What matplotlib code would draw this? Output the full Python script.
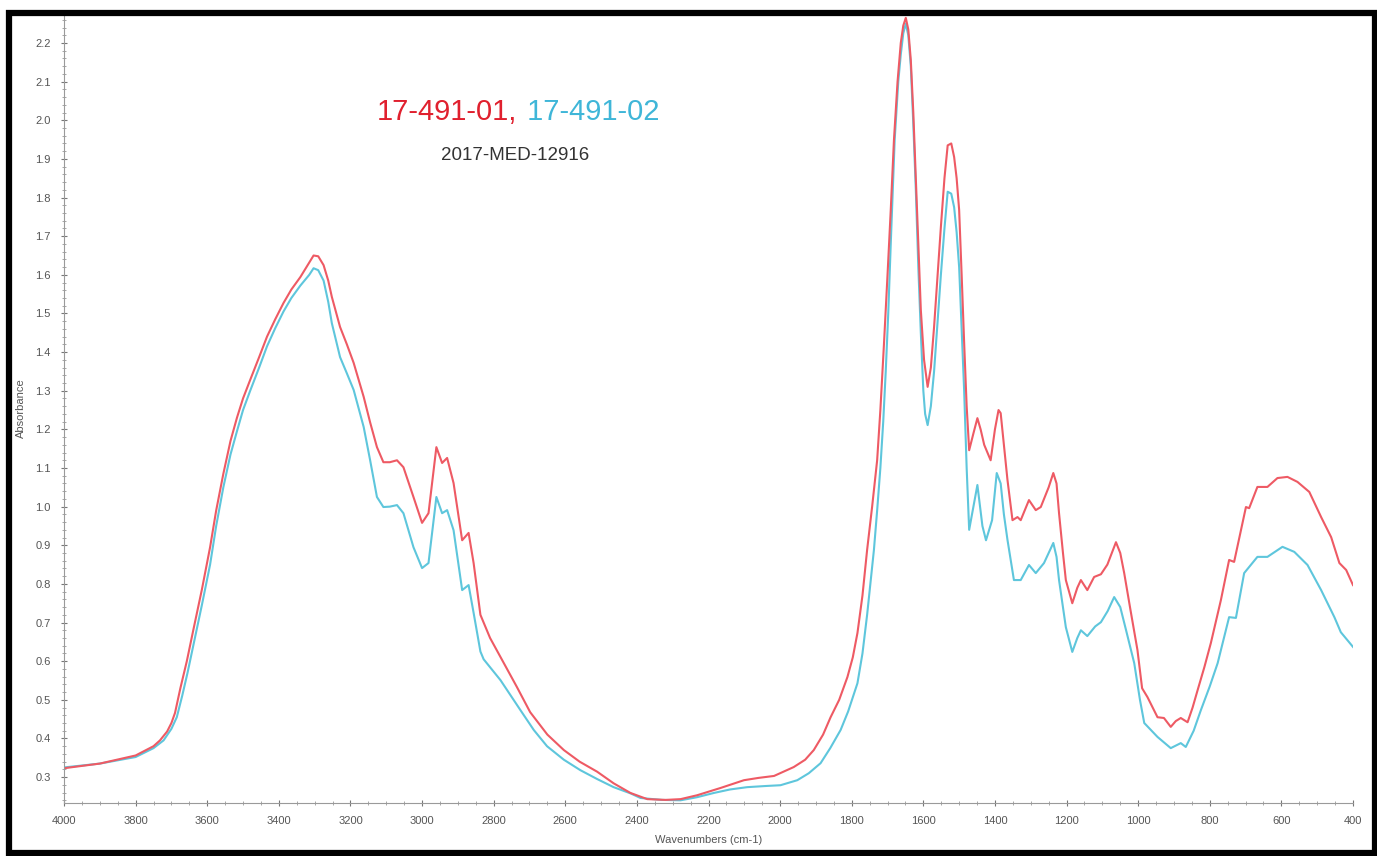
import matplotlib
matplotlib.use("Agg")
import matplotlib.pyplot as plt
from matplotlib.patches import Rectangle
from matplotlib.ticker import MultipleLocator, FixedLocator

red_wn = [4000, 3900, 3800, 3750, 3732, 3712, 3700, 3690, 3675, 3657, 3639, 3615, 3592, 3575, 3555, 3535, 3517, 3500,
          3480, 3455, 3433, 3410, 3387, 3365, 3340, 3315, 3303, 3290, 3275, 3262, 3252, 3229, 3210, 3191, 3163, 3145,
          3126, 3108, 3090, 3070, 3052, 3024, 3000, 2982, 2960, 2944, 2930, 2912, 2888, 2870, 2856, 2837, 2810, 2781,
          2735, 2698, 2650, 2604, 2560, 2511, 2465, 2418, 2371, 2320, 2278, 2232, 2166, 2101, 2060, 2017, 1962, 1930,
          1906, 1880, 1859, 1835, 1812, 1797, 1784, 1770, 1757, 1743, 1729, 1720, 1710, 1700, 1691, 1682, 1672, 1663,
          1656, 1649, 1642, 1635, 1628, 1621, 1614, 1607, 1598, 1588, 1579, 1570, 1560, 1551, 1541, 1532, 1522, 1514,
          1507, 1500, 1493, 1486, 1479, 1472, 1460, 1449, 1440, 1430, 1412, 1400, 1390, 1384, 1375, 1365, 1351, 1337, 1328,
          1305, 1286, 1272, 1250, 1237, 1228, 1221, 1210, 1202, 1184, 1170, 1160, 1142, 1123, 1104, 1086, 1062, 1050,
          1039, 1021, 1002, 989, 974, 946, 928, 909, 895, 881, 862, 848, 834, 815, 797, 769, 746, 732, 713, 699, 690,
          667, 639, 611, 583, 555, 522, 489, 461, 438, 419, 400]
red_abs = [0.323, 0.335, 0.356, 0.38, 0.395, 0.418, 0.44, 0.466, 0.53, 0.6, 0.68, 0.785, 0.895, 0.99, 1.085, 1.17, 1.23, 1.28,
           1.328, 1.387, 1.44, 1.485, 1.527, 1.562, 1.594, 1.632, 1.65, 1.648, 1.625, 1.585, 1.543, 1.465, 1.42, 1.372, 1.284, 1.218,
           1.154, 1.115, 1.115, 1.12, 1.102, 1.025, 0.958, 0.983, 1.154, 1.113, 1.126, 1.061, 0.913, 0.932, 0.854, 0.72, 0.66, 0.611,
           0.533, 0.468, 0.41, 0.37, 0.34, 0.314, 0.284, 0.259, 0.243, 0.241, 0.243, 0.253, 0.272, 0.292, 0.298, 0.303, 0.326, 0.345,
           0.37, 0.41, 0.455, 0.5, 0.559, 0.61, 0.673, 0.77, 0.888, 1.0, 1.12, 1.25, 1.42, 1.6, 1.768, 1.95, 2.1, 2.2,
           2.245, 2.265, 2.235, 2.156, 2.02, 1.853, 1.68, 1.509, 1.38, 1.31, 1.36, 1.465, 1.6, 1.724, 1.85, 1.935, 1.94, 1.905,
           1.85, 1.768, 1.6, 1.424, 1.26, 1.146, 1.19, 1.229, 1.2, 1.16, 1.12, 1.2, 1.25, 1.242, 1.16, 1.069, 0.965, 0.973, 0.965,
           1.017, 0.991, 0.999, 1.05, 1.087, 1.06, 0.983, 0.88, 0.81, 0.75, 0.79, 0.81, 0.784, 0.818, 0.825, 0.85, 0.908, 0.88,
           0.828, 0.73, 0.629, 0.53, 0.507, 0.455, 0.453, 0.43, 0.445, 0.453, 0.442, 0.48, 0.525, 0.585, 0.647, 0.758, 0.862, 0.857, 0.939, 0.999, 0.996,
           1.051, 1.051, 1.074, 1.077, 1.064, 1.038, 0.973, 0.921, 0.854, 0.836, 0.797]

blue_wn = [4000, 3900, 3800, 3750, 3722, 3700, 3685, 3670, 3655, 3639, 3615, 3592, 3575, 3555, 3535, 3517, 3500, 3480,
           3455, 3433, 3410, 3387, 3365, 3340, 3315, 3303, 3290, 3275, 3262, 3252, 3229, 3210, 3191, 3163, 3145, 3126,
           3108, 3090, 3070, 3052, 3024, 3000, 2982, 2960, 2944, 2930, 2912, 2888, 2870, 2856, 2837, 2828, 2781, 2725,
           2688, 2651, 2604, 2558, 2511, 2465, 2418, 2390, 2330, 2278, 2232, 2185, 2140, 2092, 2040, 1999, 1952, 1920,
           1887, 1860, 1831, 1810, 1784, 1770, 1757, 1738, 1729, 1720, 1712, 1705, 1698, 1691, 1680, 1670, 1663, 1656,
           1649, 1642, 1635, 1628, 1621, 1614, 1607, 1600, 1595, 1588, 1579, 1570, 1560, 1551, 1541, 1532, 1522, 1514,
           1507, 1500, 1493, 1486, 1479, 1472, 1460, 1449, 1435, 1425, 1408, 1395, 1384, 1375, 1365, 1347, 1328, 1305,
           1286, 1263, 1237, 1228, 1221, 1210, 1202, 1184, 1170, 1160, 1142, 1120, 1104, 1085, 1067, 1050, 1034, 1011,
           995, 983, 946, 909, 881, 867, 845, 825, 800, 778, 746, 727, 704, 667, 639, 597, 564, 527, 489, 452, 434, 400]
blue_abs = [0.325, 0.335, 0.352, 0.375, 0.395, 0.425, 0.455, 0.51, 0.57, 0.64, 0.745, 0.85, 0.95, 1.05, 1.135, 1.195, 1.25, 1.30,
            1.36, 1.415, 1.462, 1.505, 1.54, 1.572, 1.6, 1.617, 1.612, 1.585, 1.53, 1.475, 1.387, 1.345, 1.302, 1.206, 1.12, 1.025,
            0.999, 1.0, 1.004, 0.983, 0.895, 0.841, 0.854, 1.025, 0.983, 0.991, 0.939, 0.784, 0.797, 0.725, 0.625, 0.605, 0.551, 0.473,
            0.422, 0.38, 0.345, 0.318, 0.295, 0.274, 0.258, 0.246, 0.241, 0.24, 0.248, 0.259, 0.268, 0.274, 0.277, 0.279, 0.292, 0.31,
            0.336, 0.375, 0.422, 0.47, 0.543, 0.62, 0.72, 0.888, 0.99, 1.1, 1.22, 1.35, 1.5, 1.68, 1.95, 2.1, 2.17, 2.225,
            2.25, 2.22, 2.14, 1.99, 1.82, 1.62, 1.45, 1.3, 1.24, 1.211, 1.26, 1.35, 1.48, 1.6, 1.72, 1.815, 1.81, 1.775,
            1.71, 1.62, 1.46, 1.30, 1.1, 0.94, 1.0, 1.056, 0.95, 0.913, 0.965, 1.087, 1.06, 0.98, 0.914, 0.81, 0.81, 0.849,
            0.828, 0.854, 0.906, 0.87, 0.81, 0.74, 0.688, 0.624, 0.66, 0.68, 0.665, 0.69, 0.701, 0.73, 0.766, 0.74, 0.681, 0.595,
            0.5, 0.44, 0.404, 0.375, 0.388, 0.378, 0.42, 0.473, 0.535, 0.595, 0.714, 0.712, 0.828, 0.87, 0.87, 0.896, 0.883, 0.849, 0.784, 0.714, 0.675, 0.637]

x_ticks = [4000, 3800, 3600, 3400, 3200, 3000, 2800, 2600, 2400, 2200, 2000, 1800, 1600, 1400, 1200, 1000, 800, 600, 400]
y_ticks = [0.3, 0.4, 0.5, 0.6, 0.7, 0.8, 0.9, 1.0, 1.1, 1.2, 1.3, 1.4, 1.5, 1.6, 1.7, 1.8, 1.9, 2.0, 2.1, 2.2]

title_red = "17-491-01"
title_blue = "17-491-02"
subtitle = "2017-MED-12916"
x_label = "Wavenumbers (cm-1)"
y_label = "Absorbance"

RED = "#ee5a64"
BLUE = "#5ec6dc"

plt.rcParams['font.family'] = ['Liberation Sans', 'DejaVu Sans']

fig = plt.figure(figsize=(13.77, 8.56), dpi=100)
ax = fig.add_axes([64/1377, 53/856, (1353-64)/1377, (842-53)/856])

ax.plot(blue_wn, blue_abs, color=BLUE, lw=1.5, solid_joinstyle='round')
ax.plot(red_wn, red_abs, color=RED, lw=1.5, solid_joinstyle='round')

ax.set_xlim(4000, 400)
ax.set_ylim(0.233, 2.275)

ax.xaxis.set_major_locator(FixedLocator(x_ticks))
ax.xaxis.set_minor_locator(MultipleLocator(50))
ax.yaxis.set_major_locator(FixedLocator(y_ticks))
ax.yaxis.set_minor_locator(MultipleLocator(0.02))
ax.set_xticklabels([str(t) for t in x_ticks])
ax.set_yticklabels([f"{t:.1f}" for t in y_ticks])

for s in ['top', 'right']:
    ax.spines[s].set_visible(False)
for s in ['left', 'bottom']:
    ax.spines[s].set_color('#9a9a9a')
    ax.spines[s].set_linewidth(0.8)

ax.tick_params(which='major', direction='inout', length=5, width=0.8, color='#777777',
               labelsize=8, labelcolor='#555555', pad=7)
ax.tick_params(which='minor', direction='inout', length=3, width=0.6, color='#999999')

ax.set_xlabel(x_label, fontsize=8, color='#555555', labelpad=6)
ax.set_ylabel(y_label, fontsize=8, color='#555555')
ax.yaxis.set_label_coords((26 - 64) / 1289, 0.5)

# title
fig.text(517/1377, 1 - 112/856, title_red + ",", color="#e0202e", fontsize=21,
         ha='right', va='center')
fig.text(519/1377, 1 - 112/856, " " + title_blue, color="#3fb6d8", fontsize=21,
         ha='left', va='center')
fig.text(515/1377, 1 - 155/856, subtitle, color="#333333", fontsize=13.5,
         ha='center', va='center')

# outer frame
fig.patches.append(Rectangle((9/1377, 3/856), (1374.5-9)/1377, (843-3)/856,
                             transform=fig.transFigure, fill=False,
                             edgecolor='black', linewidth=4.5))

fig.savefig("out.png", dpi=100)
